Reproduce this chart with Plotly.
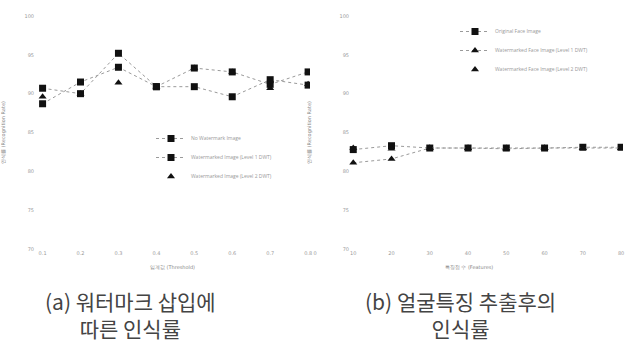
import plotly.graph_objects as go

# ---------------- data ----------------
categories = [1, 2, 3, 4, 5, 6, 7, 8]
x_labels_a = ["0.1", "0.2", "0.3", "0.4", "0.5", "0.6", "0.7", "0.8"]
x_labels_b = ["0", "10", "20", "30", "40", "50", "60", "70", "80"]
y_ticks = [70, 75, 80, 85, 90, 95, 100]

a_series1 = [90.7, 90.0, 95.2, 90.9, 93.3, 92.8, 91.2, 92.8]
a_series2 = [88.7, 91.5, 93.4, 90.9, 90.9, 89.6, 91.8, 91.1]
a_series3 = [89.6, 90.0, 91.4, 90.9, 93.3, 92.8, 90.7, 91.2]
a_names = ["No Watermark Image",
           "Watermarked Image (Level 1 DWT)",
           "Watermarked Image (Level 2 DWT)"]

b_series1 = [82.8, 83.3, 83.0, 83.0, 83.0, 83.0, 83.1, 83.1]
b_series2 = [81.1, 81.6, 83.0, 83.0, 82.9, 83.0, 83.0, 83.0]
b_series3 = [83.0, 82.9, 83.0, 83.0, 83.0, 83.0, 83.0, 83.0]
b_names = ["Original Face Image",
           "Watermarked Face Image (Level 1 DWT)",
           "Watermarked Face Image (Level 2 DWT)"]

caption_a = ["(a) 워터마크 삽입에", "따른 인식률"]
caption_b = ["(b) 얼굴특징 추출후의", "인식률"]

W, H = 627, 351
fig = go.Figure()

line_style = dict(color="#9a9a9a", width=1, dash="dot")
mk = dict(color="#111", size=7)

fig.add_trace(go.Scatter(x=categories, y=a_series1, name=a_names[0], mode="lines+markers",
                         line=line_style, marker=dict(symbol="square", **mk),
                         xaxis="x", yaxis="y", legend="legend"))
fig.add_trace(go.Scatter(x=categories, y=a_series2, name=a_names[1], mode="lines+markers",
                         line=line_style, marker=dict(symbol="square", **mk),
                         xaxis="x", yaxis="y", legend="legend"))
fig.add_trace(go.Scatter(x=categories, y=a_series3, name=a_names[2], mode="markers",
                         marker=dict(symbol="triangle-up", **mk),
                         xaxis="x", yaxis="y", legend="legend"))

fig.add_trace(go.Scatter(x=categories, y=b_series1, name=b_names[0], mode="lines+markers",
                         line=line_style, marker=dict(symbol="square", **mk),
                         xaxis="x2", yaxis="y2", legend="legend2"))
fig.add_trace(go.Scatter(x=categories, y=b_series2, name=b_names[1], mode="lines+markers",
                         line=line_style, marker=dict(symbol="triangle-up", **mk),
                         xaxis="x2", yaxis="y2", legend="legend2"))
fig.add_trace(go.Scatter(x=categories, y=b_series3, name=b_names[2], mode="markers",
                         marker=dict(symbol="triangle-up", **mk),
                         xaxis="x2", yaxis="y2", legend="legend2"))

tick_font = dict(size=5, color="#9a9a9a", family="DejaVu Sans")
axis_common = dict(showline=False, showgrid=False, zeroline=False, ticks="",
                   tickfont=tick_font, automargin=False)
title_font = dict(size=5, color="#888", family="DejaVu Sans")

fig.update_layout(
    width=W, height=H,
    margin=dict(l=0, r=0, t=0, b=0, autoexpand=False),
    paper_bgcolor="white", plot_bgcolor="white",
    hovermode=False,
    xaxis=dict(domain=[35 / W, 310 / W], range=[0.8, 8.05], anchor="y",
               tickvals=categories, ticktext=x_labels_a,
               title=dict(text="임계값 (Threshold)", font=title_font, standoff=10),
               **axis_common),
    yaxis=dict(domain=[1 - 249 / H, 1 - 16 / H], range=[70, 100], anchor="x",
               tickvals=y_ticks,
               title=dict(text="인식률 (Recognition Rate)", font=title_font, standoff=28),
               **axis_common),
    xaxis2=dict(domain=[315 / W, 623 / W], range=[0, 8.05], anchor="y2",
                tickvals=[0] + categories, ticktext=x_labels_b,
                title=dict(text="특징점 수 (Features)", font=title_font, standoff=10),
                **axis_common),
    yaxis2=dict(domain=[1 - 249 / H, 1 - 16 / H], range=[70, 100], anchor="free",
                position=349 / W, tickvals=y_ticks,
                title=dict(text="인식률 (Recognition Rate)", font=title_font, standoff=26),
                **axis_common),
    legend=dict(x=151 / W, y=1 - 124 / H, xanchor="left", yanchor="top",
                bgcolor="rgba(0,0,0,0)", font=dict(size=5, color="#999"),
                itemsizing="trace", itemwidth=30, tracegroupgap=2),
    legend2=dict(x=455 / W, y=1 - 17 / H, xanchor="left", yanchor="top",
                 bgcolor="rgba(0,0,0,0)", font=dict(size=5, color="#999"),
                 itemsizing="trace", itemwidth=30, tracegroupgap=2),
    showlegend=True,
)

cap_font = dict(size=21, color="#444", family="Noto Sans CJK KR")
for lines, cx in [(caption_a, 130), (caption_b, 460)]:
    fig.add_annotation(text="<br>".join(lines), x=cx / W, y=1 - 314 / H,
                       xref="paper", yref="paper", xanchor="center", yanchor="middle",
                       align="center", showarrow=False, font=cap_font)

fig.write_html("out.html", config={"displayModeBar": False},
               post_script="document.body.style.margin='0';")
